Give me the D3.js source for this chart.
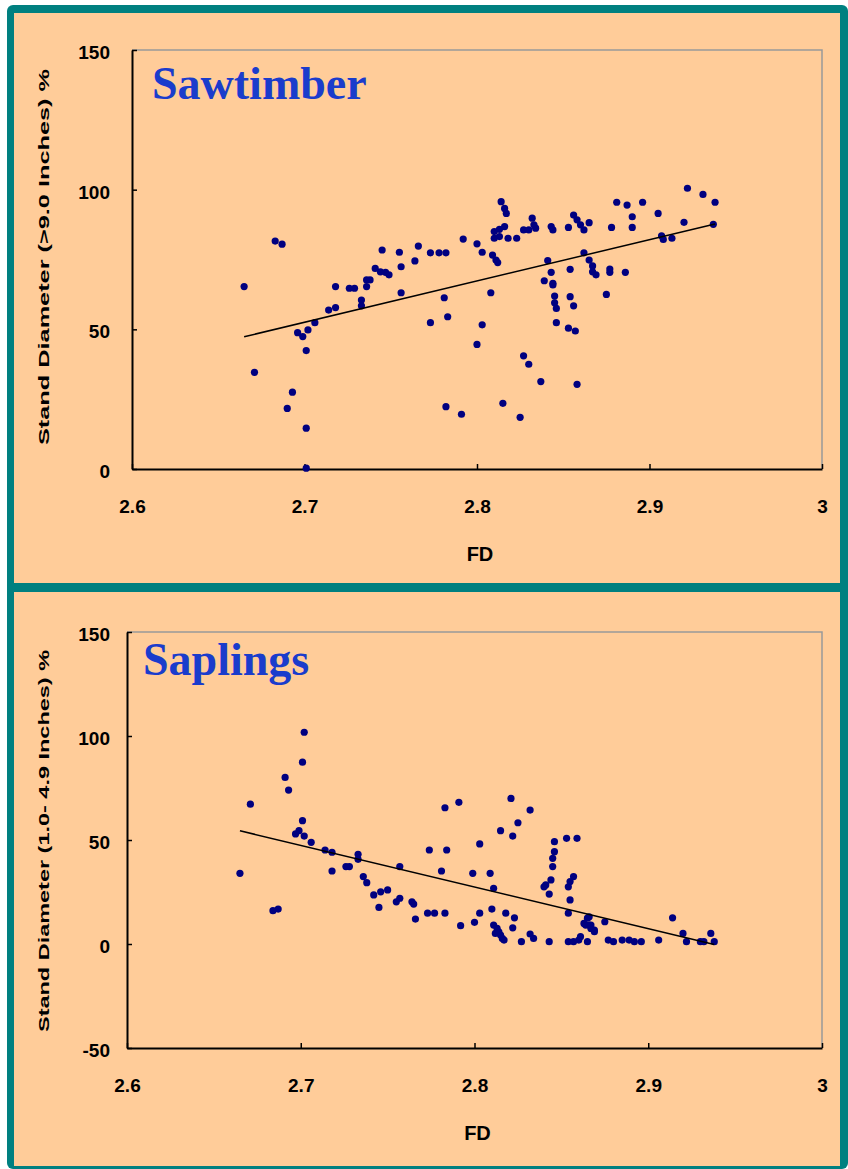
<!DOCTYPE html>
<html>
<head>
<meta charset="utf-8">
<script src="https://cdn.jsdelivr.net/npm/d3@7"></script>
<style>
  body { margin: 0; background: #fff; }
  #chart text { font-family: 'Liberation Sans', Arial, sans-serif; font-weight: bold; fill: #000; }
  #chart text.series { font-family: 'Liberation Serif', 'Times New Roman', serif; fill: #1a3ccc; }
</style>
</head>
<body>
<div id="chart"></div>
<script>
// values
const sawtimberFD = [
  2.665, 2.683, 2.687, 2.718, 2.726, 2.729, 2.745, 2.755, 2.766, 2.764, 2.756, 2.741, 2.744, 2.747,
  2.749, 2.736, 2.738, 2.736, 2.733, 2.733, 2.714, 2.718, 2.706, 2.702, 2.696, 2.699, 2.701, 2.671,
  2.693, 2.690, 2.701, 2.701, 2.773, 2.778, 2.782, 2.756, 2.781, 2.783, 2.773, 2.782, 2.791, 2.800,
  2.803, 2.808, 2.792, 2.800, 2.803, 2.809, 2.811, 2.812, 2.814, 2.816, 2.817, 2.810, 2.813, 2.816,
  2.810, 2.813, 2.818, 2.823, 2.827, 2.830, 2.832, 2.833, 2.834, 2.843, 2.844, 2.853, 2.856, 2.858,
  2.860, 2.862, 2.865, 2.878, 2.881, 2.887, 2.896, 2.890, 2.890, 2.905, 2.841, 2.843, 2.839, 2.844,
  2.844, 2.845, 2.845, 2.846, 2.846, 2.854, 2.854, 2.856, 2.853, 2.857, 2.862, 2.865, 2.867, 2.867,
  2.869, 2.877, 2.877, 2.886, 2.875, 2.827, 2.830, 2.837, 2.858, 2.815, 2.825, 2.922, 2.931, 2.938,
  2.920, 2.937, 2.907, 2.908, 2.913
]
const sawtimberPct = [
  65.3, 81.6, 80.5, 65.3, 64.7, 64.7, 78.4, 77.6, 79.8, 74.5, 72.4, 71.8, 70.6, 70.4,
  69.5, 67.7, 67.7, 65.3, 60.5, 58.4, 56.9, 57.8, 52.4, 49.8, 48.8, 47.4, 42.4, 34.6,
  27.5, 21.7, 14.6, 0.3, 77.4, 77.4, 77.4, 63.1, 61.3, 54.5, 52.4, 22.3, 19.6, 44.6,
  51.6, 63.1, 82.3, 80.6, 77.6, 76.6, 74.8, 73.9, 95.7, 93.3, 91.5, 85.0, 85.8, 86.8,
  82.6, 83.2, 82.6, 82.6, 85.6, 85.6, 89.8, 87.4, 86.2, 86.8, 85.6, 86.5, 90.9, 89.2,
  87.4, 85.6, 88.2, 86.5, 95.5, 94.5, 95.5, 90.3, 86.5, 91.5, 74.6, 70.4, 67.4, 66.5,
  65.9, 61.9, 59.5, 57.5, 52.4, 71.5, 61.7, 58.4, 50.4, 49.4, 77.4, 74.8, 72.7, 70.6,
  69.5, 71.6, 70.4, 70.4, 62.5, 40.5, 37.5, 31.3, 30.3, 23.5, 18.5, 100.5, 98.3, 95.5,
  88.3, 87.6, 83.5, 82.2, 82.6
]

const saplingsFD = [
  2.665, 2.671, 2.684, 2.687, 2.691, 2.693, 2.702, 2.701, 2.701, 2.697, 2.699, 2.702, 2.706, 2.714,
  2.718, 2.718, 2.726, 2.728, 2.733, 2.733, 2.736, 2.738, 2.742, 2.746, 2.750, 2.745, 2.755, 2.757,
  2.757, 2.764, 2.765, 2.766, 2.773, 2.777, 2.783, 2.774, 2.783, 2.784, 2.781, 2.791, 2.792, 2.800,
  2.799, 2.809, 2.803, 2.815, 2.811, 2.803, 2.810, 2.818, 2.823, 2.822, 2.822, 2.821, 2.825, 2.832,
  2.827, 2.832, 2.834, 2.843, 2.846, 2.846, 2.845, 2.845, 2.853, 2.859, 2.844, 2.841, 2.840, 2.843,
  2.857, 2.855, 2.854, 2.855, 2.854, 2.857, 2.861, 2.865, 2.854, 2.866, 2.864, 2.867, 2.869, 2.875,
  2.877, 2.880, 2.885, 2.889, 2.892, 2.896, 2.906, 2.914, 2.920, 2.922, 2.930, 2.932, 2.936, 2.938,
  2.811, 2.813, 2.814, 2.815, 2.816, 2.812, 2.817, 2.860, 2.863, 2.866, 2.867, 2.869, 2.865
]
const saplingsPct = [
  34.0, 67.2, 16.0, 16.8, 80.1, 74.0, 101.8, 87.4, 59.3, 52.9, 54.5, 51.9, 48.9, 45.2,
  44.1, 35.1, 37.2, 37.2, 43.1, 40.7, 32.4, 29.5, 23.6, 25.1, 26.0, 17.6, 20.3, 22.0,
  37.2, 20.3, 19.2, 12.0, 14.8, 14.8, 14.8, 45.2, 65.5, 45.2, 35.1, 68.1, 8.8, 10.4,
  34.0, 34.0, 48.1, 54.5, 26.8, 14.8, 16.8, 14.8, 12.6, 7.8, 51.9, 70.0, 58.3, 64.4,
  1.1, 4.8, 2.7, 1.1, 49.2, 44.4, 41.2, 37.2, 50.8, 50.8, 30.8, 28.4, 27.5, 24.0,
  32.4, 30.0, 27.5, 21.2, 14.8, 1.1, 3.5, 1.1, 1.1, 13.1, 9.1, 9.1, 6.7, 10.7,
  1.9, 1.1, 1.9, 1.9, 1.1, 1.1, 1.9, 12.6, 5.1, 1.1, 1.1, 1.1, 5.1, 1.1,
  9.1, 7.5, 5.9, 4.3, 2.7, 5.1, 1.9, 1.9, 9.9, 9.1, 7.5, 5.9, 12.4
]

const fdTicks = [2.6, 2.7, 2.8, 2.9, 3]
const sawtimberTicks = [0, 50, 100, 150]
const saplingsTicks = [-50, 0, 50, 100, 150]

const width = 848
const height = 1169

const panels = [
  {
    name: 'Sawtimber',
    yTitle: 'Stand Diameter (>9.0  Inches) %',
    fd: sawtimberFD,
    pct: sawtimberPct,
    yDomain: [0, 150],
    yTicks: sawtimberTicks,
    box: { top: 13, bottom: 583 },
    plot: { left: 132, right: 822, top: 50, bottom: 469 },
    name_at: [152, 99],
    yTitleAt: [49, 257, 376]
  },
  {
    name: 'Saplings',
    yTitle: 'Stand Diameter (1.0- 4.9 Inches) %',
    fd: saplingsFD,
    pct: saplingsPct,
    yDomain: [-50, 150],
    yTicks: saplingsTicks,
    box: { top: 592, bottom: 1166 },
    plot: { left: 127, right: 822, top: 632, bottom: 1048 },
    name_at: [143, 675],
    yTitleAt: [49, 841, 382]
  }
]

// least squares trend line
function fit(xs, ys) {
  const mx = d3.mean(xs)
  const my = d3.mean(ys)
  const b = d3.sum(xs, (x, i) => (x - mx) * (ys[i] - my)) / d3.sum(xs, x => (x - mx) ** 2)
  return x => my + b * (x - mx)
}

const svg = d3.select('#chart')
  .append('svg')
  .attr('width', width)
  .attr('height', height)

// teal frame behind both panels
svg.append('rect')
  .attr('x', 7).attr('y', 5)
  .attr('width', width - 7).attr('height', height - 5)
  .attr('rx', 6)
  .attr('fill', '#008080')

panels.forEach(p => {
  const g = svg.append('g')

  g.append('rect')
    .attr('x', 14).attr('y', p.box.top)
    .attr('width', 840 - 14).attr('height', p.box.bottom - p.box.top)
    .attr('fill', '#ffcc99')

  const x = d3.scaleLinear()
    .domain([2.6, 3])
    .range([p.plot.left, p.plot.right])

  const y = d3.scaleLinear()
    .domain(p.yDomain)
    .range([p.plot.bottom, p.plot.top])

  // top and right border of the plot area
  g.append('path')
    .attr('d', `M${p.plot.left},${p.plot.top}H${p.plot.right}V${p.plot.bottom}`)
    .attr('fill', 'none')
    .attr('stroke', '#999')
    .attr('stroke-width', 1.5)

  const xAxis = g.append('g')
    .attr('transform', `translate(0,${p.plot.bottom})`)
    .call(d3.axisBottom(x).tickValues(fdTicks).tickFormat(d => String(d))
      .tickSizeInner(-5).tickSizeOuter(0).tickPadding(31))
  xAxis.selectAll('text').attr('font-size', 19)

  const yAxis = g.append('g')
    .attr('transform', `translate(${p.plot.left},0)`)
    .call(d3.axisLeft(y).tickValues(p.yTicks).tickFormat(d => String(d))
      .tickSizeInner(-5).tickSizeOuter(0).tickPadding(p.plot.left - 110))
  yAxis.selectAll('text').attr('font-size', 19).attr('dy', '0.45em')

  g.selectAll('.domain').attr('stroke', '#000').attr('stroke-width', 2)
  g.selectAll('.tick line').attr('stroke', '#000').attr('stroke-width', 1.5)

  // axis titles
  g.append('text')
    .attr('x', (p.plot.left + p.plot.right) / 2 + 3)
    .attr('y', p.plot.bottom + 92)
    .attr('text-anchor', 'middle')
    .attr('font-size', 20)
    .text('FD')

  g.append('text')
    .attr('transform', `translate(${p.yTitleAt[0]},${p.yTitleAt[1]}) rotate(-90)`)
    .attr('text-anchor', 'middle')
    .attr('font-size', 14)
    .attr('textLength', p.yTitleAt[2])
    .attr('lengthAdjust', 'spacingAndGlyphs')
    .text(p.yTitle)

  g.append('text')
    .classed('series', true)
    .attr('x', p.name_at[0])
    .attr('y', p.name_at[1])
    .attr('font-size', 46)
    .text(p.name)

  const pts = p.fd.map((d, i) => ({ fd: d, pct: p.pct[i] }))

  g.append('g')
    .selectAll('circle')
    .data(pts)
    .enter()
    .append('circle')
    .attr('cx', d => x(d.fd))
    .attr('cy', d => y(d.pct))
    .attr('r', 3.6)
    .attr('fill', '#000080')

  const trend = fit(p.fd, p.pct)
  const ends = d3.extent(p.fd)

  g.append('line')
    .attr('x1', x(ends[0])).attr('y1', y(trend(ends[0])))
    .attr('x2', x(ends[1])).attr('y2', y(trend(ends[1])))
    .attr('stroke', '#000')
    .attr('stroke-width', 1.5)
})
</script>
</body>
</html>
